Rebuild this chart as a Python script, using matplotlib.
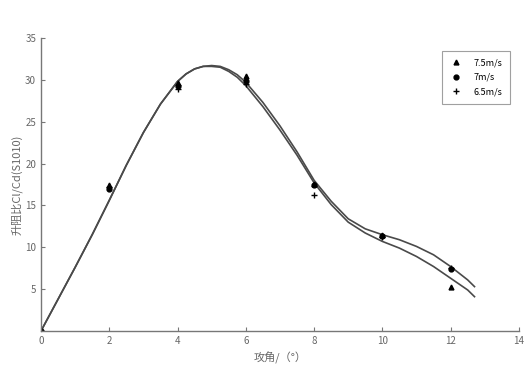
import matplotlib
matplotlib.use("Agg")
import matplotlib.pyplot as plt

plt.rcParams['font.family'] = ['Noto Sans CJK SC', 'DejaVu Sans']

# measured points, angle of attack (deg)
alpha = [0, 2, 4, 6, 8, 10, 12]
v75 = [0, 17.4, 29.6, 30.5, 17.6, 11.5, 5.2]
v70 = [0, 17.0, 29.2, 29.9, 17.4, 11.3, 7.4]
v65 = [0, 17.2, 28.9, 29.5, 16.3, 11.2, 7.5]

# fitted curves
fit_x = [0, 0.5, 1, 1.5, 2, 2.5, 3, 3.5, 4, 4.25, 4.5, 4.75, 5, 5.25, 5.5, 5.75, 6, 6.5, 7,
         7.5, 8, 8.5, 9, 9.5, 10, 10.5, 11, 11.5, 12, 12.5, 12.7]
fit_upper = [0, 3.8, 7.6, 11.5, 15.6, 19.8, 23.7, 27.1, 29.8, 30.7, 31.3, 31.6, 31.7, 31.6, 31.2, 30.6,
             29.7, 27.3, 24.5, 21.4, 18.0, 15.5, 13.4, 12.2, 11.5, 10.9, 10.1, 9.1, 7.7, 6.1, 5.3]
fit_lower = [0, 3.8, 7.6, 11.5, 15.6, 19.8, 23.7, 27.1, 29.8, 30.7, 31.3, 31.6, 31.6, 31.5, 31.0, 30.3,
             29.3, 26.8, 24.0, 21.0, 17.7, 15.1, 13.0, 11.7, 10.7, 9.9, 8.9, 7.7, 6.3, 4.9, 4.1]

fig = plt.figure(figsize=(5.31, 3.71), dpi=100)
ax = fig.add_axes([0.0772, 0.1078, 0.9, 0.79])

ax.plot(fit_x, fit_upper, color='#4a4a4a', lw=1.2)
ax.plot(fit_x, fit_lower, color='#4a4a4a', lw=1.2)

ax.plot(alpha, v75, '^', color='black', ms=3.5, ls='none', label='7.5m/s')
ax.plot(alpha, v70, 'o', color='black', ms=3.5, ls='none', label='7m/s')
ax.plot(alpha, v65, '+', color='black', ms=4.5, mew=1.0, ls='none', label='6.5m/s')

ax.set_xlim(0, 14)
ax.set_ylim(0, 35)
ax.set_xticks(range(0, 15, 2))
ax.set_yticks(range(5, 36, 5))

for s in ['top', 'right']:
    ax.spines[s].set_visible(False)
for s in ['left', 'bottom']:
    ax.spines[s].set_color('#777777')
    ax.spines[s].set_linewidth(1.0)
ax.tick_params(direction='in', length=3, colors='#777777', labelcolor='#666666', labelsize=7)

ax.set_xlabel('攻角/（°）', fontsize=8, color='#666666', labelpad=4)
ax.set_ylabel('升阻比Cl/Cd(S1010)', fontsize=8, color='#666666', labelpad=2)

leg = ax.legend(loc='upper right', bbox_to_anchor=(0.99, 0.97), fontsize=6.5,
                frameon=True, fancybox=False, edgecolor='#888888',
                handletextpad=1.2, borderpad=0.8, labelspacing=0.6, handlelength=1.5)
leg.get_frame().set_linewidth(0.8)

fig.savefig('out.png', dpi=100)
